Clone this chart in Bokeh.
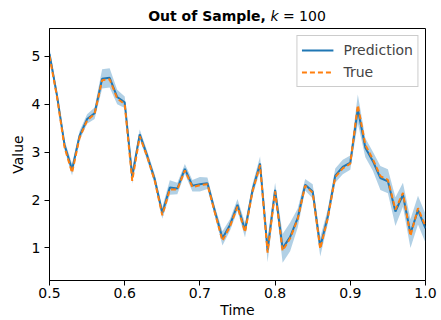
from bokeh.plotting import figure
from bokeh.models import Range1d, FixedTicker, Legend, LegendItem, Div, NumeralTickFormatter
from bokeh.layouts import column
from bokeh.embed import file_html
from bokeh.resources import INLINE

time = [round(0.5 + 0.01 * i, 2) for i in range(51)]
prediction = [5.05, 4.18, 3.15, 2.63, 3.34, 3.69, 3.81, 4.53, 4.55, 4.15,
              4.04, 2.49, 3.37, 2.92, 2.43, 1.73, 2.26, 2.24, 2.65, 2.30,
              2.33, 2.35, 1.76, 1.20, 1.48, 1.90, 1.37, 2.21, 2.76, 0.95,
              2.21, 0.99, 1.23, 1.62, 2.32, 2.18, 1.02, 1.65, 2.51, 2.69,
              2.78, 3.90, 3.09, 2.81, 2.46, 2.39, 1.76, 2.11, 1.30, 1.79, 1.41]
true_vals = [5.0, 4.15, 3.1, 2.57, 3.3, 3.66, 3.8, 4.5, 4.52, 4.12,
             4.0, 2.4, 3.33, 2.9, 2.4, 1.68, 2.22, 2.22, 2.62, 2.27,
             2.31, 2.33, 1.73, 1.15, 1.45, 1.86, 1.33, 2.18, 2.73, 0.9,
             2.18, 0.94, 1.2, 1.6, 2.3, 2.15, 0.98, 1.62, 2.48, 2.66,
             2.76, 3.98, 3.15, 2.85, 2.5, 2.42, 1.8, 2.15, 1.25, 1.83, 1.45]
std = [0.12, 0.1, 0.1, 0.12, 0.1, 0.1, 0.12, 0.2, 0.2, 0.15,
       0.12, 0.15, 0.1, 0.1, 0.1, 0.12, 0.15, 0.12, 0.1, 0.12,
       0.15, 0.12, 0.1, 0.15, 0.12, 0.12, 0.15, 0.12, 0.15, 0.25,
       0.15, 0.3, 0.3, 0.2, 0.12, 0.15, 0.2, 0.15, 0.15, 0.15,
       0.15, 0.3, 0.2, 0.2, 0.25, 0.25, 0.3, 0.25, 0.3, 0.3, 0.3]
x_ticks = [0.5, 0.6, 0.7, 0.8, 0.9, 1.0]
y_ticks = [1, 2, 3, 4, 5]

lower = [p - s for p, s in zip(prediction, std)]
upper = [p + s for p, s in zip(prediction, std)]

FONT = "DejaVu Sans"
BLUE = "#1f77b4"
ORANGE = "#ff7f0e"

title = Div(text="<b>Out of Sample,</b> <i>k</i> = 100", width=441, height=26,
            margin=0,
            styles={"font-family": FONT, "font-size": "14px", "color": "black",
                    "text-align": "center", "width": "441px",
                    "line-height": "16px", "padding-top": "8px",
                    "box-sizing": "border-box", "padding-left": "33px"})

p = figure(width=441, height=294, output_backend="svg", toolbar_location=None,
           x_range=Range1d(0.5, 1.0), y_range=Range1d(0.32, 5.58),
           min_border_left=49, min_border_right=16, min_border_top=2,
           min_border_bottom=39, margin=0)
p.grid.visible = False
p.outline_line_color = "black"
p.outline_line_width = 1
p.background_fill_color = "white"
p.border_fill_color = "white"

p.varea(x=time, y1=lower, y2=upper, fill_color=BLUE, fill_alpha=0.35)
r_pred = p.line(time, prediction, line_color=BLUE, line_width=2)
r_true = p.line(time, true_vals, line_color=ORANGE, line_width=2, line_dash="5 3")

for ax in (p.xaxis[0], p.yaxis[0]):
    ax.axis_line_color = "black"
    ax.major_tick_line_color = "black"
    ax.minor_tick_line_color = None
    ax.major_tick_out = 5
    ax.major_tick_in = 0
    ax.major_label_text_font = FONT
    ax.major_label_text_font_size = "14px"
    ax.major_label_text_color = "black"
    ax.axis_label_text_font = FONT
    ax.axis_label_text_font_size = "14px"
    ax.axis_label_text_font_style = "normal"
    ax.axis_label_text_color = "black"

p.xaxis[0].ticker = FixedTicker(ticks=x_ticks)
p.xaxis[0].formatter = NumeralTickFormatter(format="0.0")
p.yaxis[0].ticker = FixedTicker(ticks=y_ticks)
p.xaxis[0].axis_label = "Time"
p.yaxis[0].axis_label = "Value"
p.xaxis[0].axis_label_standoff = 1
p.yaxis[0].axis_label_standoff = 3
p.xaxis[0].major_label_standoff = 2
p.yaxis[0].major_label_standoff = 4

legend = Legend(items=[LegendItem(label="Prediction", renderers=[r_pred]),
                       LegendItem(label="True", renderers=[r_true])],
                location="top_right")
legend.label_text_font = FONT
legend.label_text_font_size = "14px"
legend.border_line_color = "#cccccc"
legend.border_line_alpha = 1
legend.background_fill_alpha = 0.8
legend.glyph_width = 32
legend.label_standoff = 10
legend.spacing = 2
legend.padding = 4
legend.margin = 7
p.add_layout(legend)

layout = column(title, p, spacing=0, margin=0)
open("out.html", "w").write(file_html(layout, INLINE))
